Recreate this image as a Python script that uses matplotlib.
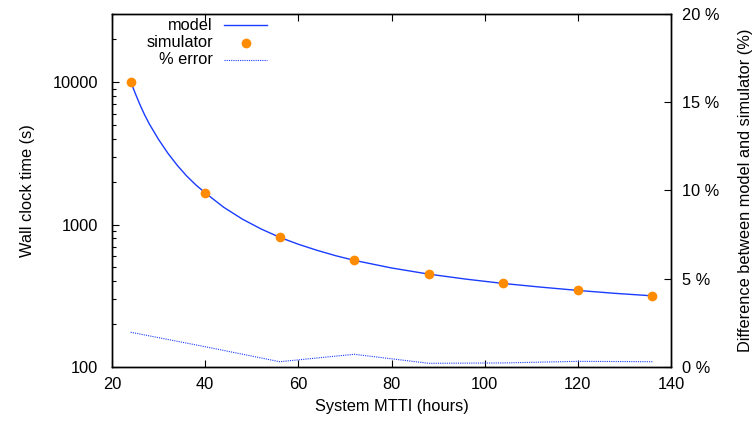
import matplotlib
matplotlib.use("Agg")
import matplotlib.pyplot as plt
from matplotlib.lines import Line2D

plt.rcParams['font.family'] = ['Liberation Sans', 'DejaVu Sans']

# Data
sim_x = [24, 40, 56, 72, 88, 104, 120, 136]
sim_y = [10100, 1672, 814, 561, 449, 386, 345, 316]

model_x = [24, 25, 26, 27, 28, 30, 32, 34, 36, 38, 40, 44, 48, 52, 56, 60, 64, 68,
           72, 80, 88, 96, 104, 112, 120, 128, 136]
model_y = [10100, 8340, 6950, 5900, 5100, 3960, 3170, 2610, 2200, 1900, 1672, 1322,
           1092, 932, 814, 728, 660, 605, 561, 496, 449, 414, 386, 364, 345, 329, 316]

err_x = [24, 40, 56, 72, 88, 104, 120, 136]
err_y = [1.97, 1.15, 0.30, 0.72, 0.21, 0.23, 0.32, 0.30]

xticks = [20, 40, 60, 80, 100, 120, 140]
yticks = [100, 1000, 10000]
y2ticks = [0, 5, 10, 15, 20]

fig = plt.figure(figsize=(7.53, 4.28), dpi=100)
ax = fig.add_axes([112/753, 1-367/428, (671-112)/753, (367-14)/428])
ax2 = ax.twinx()

blue = '#1a3cff'
orange = '#ff8c00'

ax.plot(model_x, model_y, color=blue, lw=1.0, zorder=3)
ax.plot(sim_x, sim_y, 'o', color=orange, ms=7, mec='none', zorder=4)
ax2.plot(err_x, err_y, color=blue, lw=0.8, ls=(0, (1, 1)), zorder=3)

ax.set_yscale('log')
ax.set_xlim(20, 140)
ax.set_ylim(100, 10**4.479)
ax2.set_ylim(0, 20)

fs = 11.8
ax.set_xticks(xticks)
ax.set_xticklabels([str(v) for v in xticks], fontsize=fs)
ax.set_yticks(yticks)
ax.set_yticklabels([str(v) for v in yticks], fontsize=fs)
ax2.set_yticks(y2ticks)
ax2.set_yticklabels([f'{v} %' for v in y2ticks], fontsize=fs)

ax.tick_params(axis='x', which='both', direction='in', top=True, bottom=True, length=5, width=0.8, pad=7)
ax.tick_params(axis='y', which='major', direction='in', left=True, right=False, length=5, width=0.8, pad=10)
ax.tick_params(axis='y', which='minor', direction='in', left=True, right=False, length=3, width=0.8)
ax2.tick_params(axis='y', which='both', direction='in', right=True, left=False, length=5, width=0.8, pad=8)
ax.yaxis.set_minor_formatter(matplotlib.ticker.NullFormatter())

for a in (ax, ax2):
    for s in a.spines.values():
        s.set_linewidth(1.0)

ax.set_xlabel('System MTTI (hours)', fontsize=fs, labelpad=5)
ax.set_ylabel('Wall clock time (s)', fontsize=fs, labelpad=13)
ax2.set_ylabel('Difference between model and simulator (%)', fontsize=fs, labelpad=13)

# Legend (gnuplot style: right-aligned text, sample to the right)
W = 671 - 112
H = 367 - 14
def ax_xy(px, py):
    return (px - 112) / W, (367 - py) / H

labels = ['model', 'simulator', '% error']
ys = [25, 42.7, 60]
tx, _ = ax_xy(213, 0)
l0, _ = ax_xy(224, 0)
l1, _ = ax_xy(267, 0)
mx, _ = ax_xy(245.5, 0)
for lab, py in zip(labels, ys):
    _, ty = ax_xy(0, py)
    ax.text(tx, ty, lab, transform=ax.transAxes, ha='right', va='center', fontsize=fs)
_, y0 = ax_xy(0, ys[0])
_, y1 = ax_xy(0, ys[1])
_, y2 = ax_xy(0, ys[2])
ax.add_line(Line2D([l0, l1], [y0, y0], transform=ax.transAxes, color=blue, lw=1.0))
ax.add_line(Line2D([mx], [y1], transform=ax.transAxes, marker='o', color=orange, ms=7, mec='none', ls='none'))
ax.add_line(Line2D([l0, l1], [y2, y2], transform=ax.transAxes, color=blue, lw=0.8, ls=(0, (1, 1))))

fig.savefig('out.png', dpi=100)
